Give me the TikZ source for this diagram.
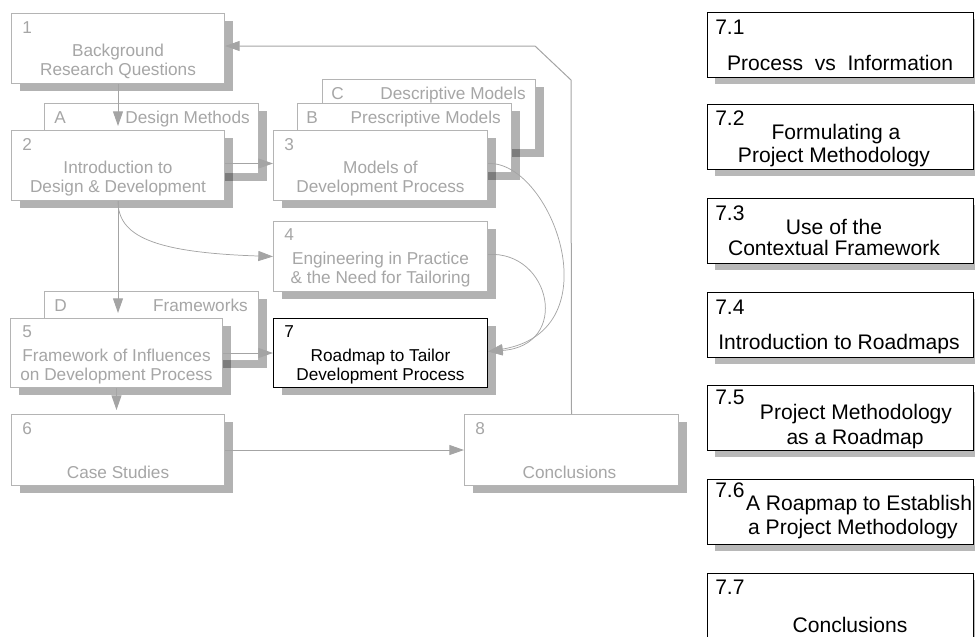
\documentclass[tikz,border=0pt]{standalone}
\usepackage{fontspec}
\setmainfont{Liberation Sans}
\usetikzlibrary{arrows.meta,calc,shadows}
\definecolor{paleline}{HTML}{B4B4B4}
\definecolor{paletext}{HTML}{A6A6A6}
\definecolor{linkgray}{HTML}{A4A4A4}
\begin{document}
\begin{tikzpicture}[x=0.75pt,y=-0.75pt,
  smallfont/.style={font=\fontsize{12.9}{15}\selectfont},
  bigfont/.style={font=\fontsize{15.8}{18}\selectfont},
  chap/.style 2 args={anchor=north west, draw=paleline, fill=white, line width=0.75pt,
    inner sep=0pt, minimum width=#1*0.75pt, minimum height=#2*0.75pt,
    drop shadow={shadow xshift=6pt, shadow yshift=-5.25pt, fill=black, opacity=0.3}},
  txt/.style={smallfont, text=paletext, inner sep=0pt, anchor=base},
  sec/.style={anchor=north west, draw=black, fill=white, line width=1pt, inner sep=0pt,
    minimum width=266*0.75pt, minimum height=65*0.75pt,
    drop shadow={shadow xshift=5.25pt, shadow yshift=-4.5pt, fill=black, opacity=0.28}},
  stxt/.style={bigfont, text=black, inner sep=0pt, anchor=base},
  link/.style={draw=linkgray, line width=0.75pt, -{Triangle[length=11pt,width=7.5pt]}},
  curve/.style={link, line width=0.55pt}
]
\useasboundingbox (0,0) rectangle (975,636);

% ---- chapter boxes with their tabs ----
\node[chap={214}{70}] (tabA) at (44,103) {};
\node[chap={213}{70}] (b1) at (11,13) {};
\node[chap={213}{70}] (b2) at (11,130) {};
\node[chap={213}{70}] (tabC) at (322,79) {};
\node[chap={214}{69}] (tabB) at (297,103) {};
\node[chap={214}{70}] (b3) at (273,130) {};
\node[chap={214}{70}] (b4) at (273,221) {};
\node[chap={214}{69}] (tabD) at (44,291) {};
\node[chap={212}{69}] (b5) at (10,318) {};
\node[chap={214}{69}, draw=black] (b7) at (273,318) {};
\node[chap={213}{71}] (b6) at (11,414) {};
\node[chap={214}{71}] (b8) at (464,414) {};

% tab labels
\node[txt, anchor=base west] (lA) at ($(tabA.north west)+(10,20)$) {A};
\node[txt, anchor=base east] (nA) at ($(tabA.north east)+(-9,20)$) {Design Methods};
\node[txt, anchor=base west] (lC) at ($(tabC.north west)+(9,20)$) {C};
\node[txt, anchor=base east] (nC) at ($(tabC.north east)+(-10,20)$) {Descriptive Models};
\node[txt, anchor=base west] (lB) at ($(tabB.north west)+(9,20)$) {B};
\node[txt, anchor=base east] (nB) at ($(tabB.north east)+(-11,20)$) {Prescriptive Models};
\node[txt, anchor=base west] (lD) at ($(tabD.north west)+(10,20)$) {D};
\node[txt, anchor=base east] (nD) at ($(tabD.north east)+(-11,20)$) {Frameworks};

% chapter texts
\node[txt, anchor=base west] (n1) at ($(b1.north west)+(11,20)$) {1};
\node[txt] (t1a) at ($(b1.north)+(0,43.5)$) {Background};
\node[txt] (t1b) at ($(b1.north)+(0,62.5)$) {Research Questions};

\node[txt, anchor=base west] (n2) at ($(b2.north west)+(11,20)$) {2};
\node[txt] (t2a) at ($(b2.north)+(0,43.5)$) {Introduction to};
\node[txt] (t2b) at ($(b2.north)+(0,62.5)$) {Design \& Development};

\node[txt, anchor=base west] (n3) at ($(b3.north west)+(11,20)$) {3};
\node[txt] (t3a) at ($(b3.north)+(0,43.5)$) {Models of};
\node[txt] (t3b) at ($(b3.north)+(0,62.5)$) {Development Process};

\node[txt, anchor=base west] (n4) at ($(b4.north west)+(11,19)$) {4};
\node[txt] (t4a) at ($(b4.north)+(0,43.5)$) {Engineering in Practice};
\node[txt] (t4b) at ($(b4.north)+(0,62.5)$) {\& the Need for Tailoring};

\node[txt, anchor=base west] (n5) at ($(b5.north west)+(12,19)$) {5};
\node[txt] (t5a) at ($(b5.north)+(0,43)$) {Framework of Influences};
\node[txt] (t5b) at ($(b5.north)+(0,62)$) {on Development Process};

\node[txt, anchor=base west, text=black] (n7) at ($(b7.north west)+(11,19)$) {7};
\node[txt, text=black] (t7a) at ($(b7.north)+(0,43)$) {Roadmap to Tailor};
\node[txt, text=black] (t7b) at ($(b7.north)+(0,62)$) {Development Process};

\node[txt, anchor=base west] (n6) at ($(b6.north west)+(11,20)$) {6};
\node[txt] (t6) at ($(b6.north)+(0,64)$) {Case Studies};

\node[txt, anchor=base west] (n8) at ($(b8.north west)+(11,20)$) {8};
\node[txt] (t8) at ($(b8.north)+(-2,64)$) {Conclusions};

% ---- section boxes of chapter 7 ----
\node[sec] (s1) at (707,12) {};
\node[sec] (s2) at (707,104) {};
\node[sec] (s3) at (707,198) {};
\node[sec] (s4) at (707,292) {};
\node[sec] (s5) at (707,385) {};
\node[sec] (s6) at (707,479) {};
\node[sec] (s7) at (707,573) {};

\node[stxt, anchor=base west] (m1) at ($(s1.north west)+(8,22)$) {7.1};
\node[stxt] (u1) at ($(s1.north west)+(133,58)$) {Process\ \ vs\ \ Information};

\node[stxt, anchor=base west] (m2) at ($(s2.north west)+(8,21)$) {7.2};
\node[stxt] (u2a) at ($(s2.north west)+(129,35)$) {Formulating a};
\node[stxt] (u2b) at ($(s2.north west)+(127,58)$) {Project Methodology};

\node[stxt, anchor=base west] (m3) at ($(s3.north west)+(8,22)$) {7.3};
\node[stxt] (u3a) at ($(s3.north west)+(127,36)$) {Use of the};
\node[stxt] (u3b) at ($(s3.north west)+(127,57)$) {Contextual Framework};

\node[stxt, anchor=base west] (m4) at ($(s4.north west)+(8,22)$) {7.4};
\node[stxt] (u4) at ($(s4.north west)+(132,57)$) {Introduction to Roadmaps};

\node[stxt, anchor=base west] (m5) at ($(s5.north west)+(8,19)$) {7.5};
\node[stxt] (u5a) at ($(s5.north west)+(149,34)$) {Project Methodology};
\node[stxt] (u5b) at ($(s5.north west)+(148,59)$) {as a Roadmap};

\node[stxt, anchor=base west] (m6) at ($(s6.north west)+(8,18)$) {7.6};
\node[stxt] (u6a) at ($(s6.north west)+(152,31)$) {A Roapmap to Establish};
\node[stxt] (u6b) at ($(s6.north west)+(146,55)$) {a Project Methodology};

\node[stxt, anchor=base west] (m7) at ($(s7.north west)+(8,21)$) {7.7};
\node[stxt] (u7) at ($(s7.north west)+(143,59)$) {Conclusions};

% ---- connectors ----
\draw[link] (b1.south) -- ($(b2.north)+(0,-4)$);
\draw[link] (b2.south) -- ($(b2.south |- b5.north)+(0,-5)$);
\draw[link] (b5.south) -- ($(b5.south |- b6.north)+(0,-4)$);
\draw[link] ($(b2.east)+(0,-2)$) -- ($(b3.west)+(0,-2)$);
\draw[link] (b5.east) -- (b7.west);
\draw[link] (b6.east) -- (b8.west);
\draw[curve] (b2.south) .. controls +(0,35) and +(-120,-4) .. (b4.west);
\draw[curve] ($(b3.east)+(0,-2)$) .. controls +(63,-3) and +(127,-21) .. ($(b7.east)+(0,-1.5)$);
\draw[curve] ($(b4.east)+(0,-2)$) .. controls +(63,-4) and +(83,-6) .. ($(b7.east)+(0,-1.5)$);
\coordinate (fbA) at (571,80);
\coordinate (fbB) at (535,46);
\draw[link] (b8.north) -- (fbA) -- (fbB) -- (fbB -| b1.east);
\end{tikzpicture}
\end{document}
